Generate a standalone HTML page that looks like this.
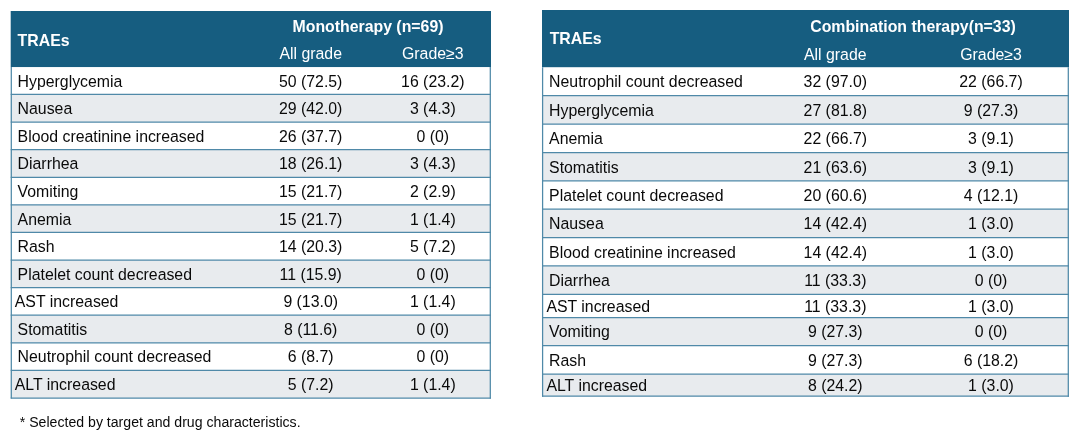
<!DOCTYPE html>
<html lang="en"><head><meta charset="utf-8"><title>TRAEs</title>
<style>
html,body{margin:0;padding:0;background:#fff;}
body{width:1080px;height:437px;position:relative;overflow:hidden;font-family:"Liberation Sans",Arial,Helvetica,sans-serif;font-size:15.85px;color:#0a0a0a;}
.bg{position:absolute;left:0;top:0;}
.t{position:absolute;white-space:nowrap;line-height:20px;height:20px;}
.c{transform:translateX(-50%);}
.h{color:#fff;}
.b{font-weight:bold;}
.fn{font-size:14.12px;}
</style></head><body>

<svg class="bg" width="1080" height="437" viewBox="0 0 1080 437">
<rect x="10.70" y="11.00" width="480.30" height="56.05" fill="#165d80"/>
<rect x="10.70" y="94.49" width="480.30" height="27.59" fill="#e8ebee"/>
<rect x="10.70" y="149.68" width="480.30" height="27.59" fill="#e8ebee"/>
<rect x="10.70" y="204.86" width="480.30" height="27.59" fill="#e8ebee"/>
<rect x="10.70" y="260.04" width="480.30" height="27.59" fill="#e8ebee"/>
<rect x="10.70" y="315.23" width="480.30" height="27.59" fill="#e8ebee"/>
<rect x="10.70" y="370.41" width="480.30" height="27.59" fill="#e8ebee"/>
<line x1="10.70" y1="94.49" x2="491.00" y2="94.49" stroke="#4f89a8" stroke-width="1.25"/>
<line x1="10.70" y1="122.08" x2="491.00" y2="122.08" stroke="#4f89a8" stroke-width="1.25"/>
<line x1="10.70" y1="149.68" x2="491.00" y2="149.68" stroke="#4f89a8" stroke-width="1.25"/>
<line x1="10.70" y1="177.27" x2="491.00" y2="177.27" stroke="#4f89a8" stroke-width="1.25"/>
<line x1="10.70" y1="204.86" x2="491.00" y2="204.86" stroke="#4f89a8" stroke-width="1.25"/>
<line x1="10.70" y1="232.45" x2="491.00" y2="232.45" stroke="#4f89a8" stroke-width="1.25"/>
<line x1="10.70" y1="260.04" x2="491.00" y2="260.04" stroke="#4f89a8" stroke-width="1.25"/>
<line x1="10.70" y1="287.64" x2="491.00" y2="287.64" stroke="#4f89a8" stroke-width="1.25"/>
<line x1="10.70" y1="315.23" x2="491.00" y2="315.23" stroke="#4f89a8" stroke-width="1.25"/>
<line x1="10.70" y1="342.82" x2="491.00" y2="342.82" stroke="#4f89a8" stroke-width="1.25"/>
<line x1="10.70" y1="370.41" x2="491.00" y2="370.41" stroke="#4f89a8" stroke-width="1.25"/>
<line x1="10.70" y1="398.00" x2="491.00" y2="398.00" stroke="#4f89a8" stroke-width="1.25"/>
<line x1="11.30" y1="67.05" x2="11.30" y2="398.60" stroke="#4f89a8" stroke-width="1.25"/>
<line x1="490.30" y1="67.05" x2="490.30" y2="398.60" stroke="#4f89a8" stroke-width="1.25"/>
<rect x="542.00" y="10.00" width="527.00" height="57.20" fill="#165d80"/>
<rect x="542.00" y="95.70" width="527.00" height="28.45" fill="#e8ebee"/>
<rect x="542.00" y="152.55" width="527.00" height="28.25" fill="#e8ebee"/>
<rect x="542.00" y="209.20" width="527.00" height="28.35" fill="#e8ebee"/>
<rect x="542.00" y="265.90" width="527.00" height="28.45" fill="#e8ebee"/>
<rect x="542.00" y="317.55" width="527.00" height="28.00" fill="#e8ebee"/>
<rect x="542.00" y="374.05" width="527.00" height="22.15" fill="#e8ebee"/>
<line x1="542.00" y1="95.70" x2="1069.00" y2="95.70" stroke="#4f89a8" stroke-width="1.25"/>
<line x1="542.00" y1="124.15" x2="1069.00" y2="124.15" stroke="#4f89a8" stroke-width="1.25"/>
<line x1="542.00" y1="152.55" x2="1069.00" y2="152.55" stroke="#4f89a8" stroke-width="1.25"/>
<line x1="542.00" y1="180.80" x2="1069.00" y2="180.80" stroke="#4f89a8" stroke-width="1.25"/>
<line x1="542.00" y1="209.20" x2="1069.00" y2="209.20" stroke="#4f89a8" stroke-width="1.25"/>
<line x1="542.00" y1="237.55" x2="1069.00" y2="237.55" stroke="#4f89a8" stroke-width="1.25"/>
<line x1="542.00" y1="265.90" x2="1069.00" y2="265.90" stroke="#4f89a8" stroke-width="1.25"/>
<line x1="542.00" y1="294.35" x2="1069.00" y2="294.35" stroke="#4f89a8" stroke-width="1.25"/>
<line x1="542.00" y1="317.55" x2="1069.00" y2="317.55" stroke="#4f89a8" stroke-width="1.25"/>
<line x1="542.00" y1="345.55" x2="1069.00" y2="345.55" stroke="#4f89a8" stroke-width="1.25"/>
<line x1="542.00" y1="374.05" x2="1069.00" y2="374.05" stroke="#4f89a8" stroke-width="1.25"/>
<line x1="542.00" y1="396.20" x2="1069.00" y2="396.20" stroke="#4f89a8" stroke-width="1.25"/>
<line x1="542.60" y1="67.20" x2="542.60" y2="396.80" stroke="#4f89a8" stroke-width="1.25"/>
<line x1="1068.30" y1="67.20" x2="1068.30" y2="396.80" stroke="#4f89a8" stroke-width="1.25"/>
</svg>
<div class="t h b" style="left:17.60px;top:30.66px">TRAEs</div>
<div class="t h b c" style="left:368.00px;top:16.76px">Monotherapy (n=69)</div>
<div class="t h c" style="left:310.70px;top:43.76px">All grade</div>
<div class="t h c" style="left:432.80px;top:43.76px">Grade≥3</div>
<div class="t" style="left:17.60px;top:71.55px">Hyperglycemia</div>
<div class="t  c" style="left:310.70px;top:71.55px">50 (72.5)</div>
<div class="t  c" style="left:432.80px;top:71.55px">16 (23.2)</div>
<div class="t" style="left:17.60px;top:99.14px">Nausea</div>
<div class="t  c" style="left:310.70px;top:99.14px">29 (42.0)</div>
<div class="t  c" style="left:432.80px;top:99.14px">3 (4.3)</div>
<div class="t" style="left:17.60px;top:126.74px">Blood creatinine increased</div>
<div class="t  c" style="left:310.70px;top:126.74px">26 (37.7)</div>
<div class="t  c" style="left:432.80px;top:126.74px">0 (0)</div>
<div class="t" style="left:17.60px;top:154.33px">Diarrhea</div>
<div class="t  c" style="left:310.70px;top:154.33px">18 (26.1)</div>
<div class="t  c" style="left:432.80px;top:154.33px">3 (4.3)</div>
<div class="t" style="left:17.60px;top:181.92px">Vomiting</div>
<div class="t  c" style="left:310.70px;top:181.92px">15 (21.7)</div>
<div class="t  c" style="left:432.80px;top:181.92px">2 (2.9)</div>
<div class="t" style="left:17.60px;top:209.51px">Anemia</div>
<div class="t  c" style="left:310.70px;top:209.51px">15 (21.7)</div>
<div class="t  c" style="left:432.80px;top:209.51px">1 (1.4)</div>
<div class="t" style="left:17.60px;top:237.10px">Rash</div>
<div class="t  c" style="left:310.70px;top:237.10px">14 (20.3)</div>
<div class="t  c" style="left:432.80px;top:237.10px">5 (7.2)</div>
<div class="t" style="left:17.60px;top:264.70px">Platelet count decreased</div>
<div class="t  c" style="left:310.70px;top:264.70px">11 (15.9)</div>
<div class="t  c" style="left:432.80px;top:264.70px">0 (0)</div>
<div class="t" style="left:14.80px;top:292.29px">AST increased</div>
<div class="t  c" style="left:310.70px;top:292.29px">9 (13.0)</div>
<div class="t  c" style="left:432.80px;top:292.29px">1 (1.4)</div>
<div class="t" style="left:17.60px;top:319.88px">Stomatitis</div>
<div class="t  c" style="left:310.70px;top:319.88px">8 (11.6)</div>
<div class="t  c" style="left:432.80px;top:319.88px">0 (0)</div>
<div class="t" style="left:17.60px;top:347.47px">Neutrophil count decreased</div>
<div class="t  c" style="left:310.70px;top:347.47px">6 (8.7)</div>
<div class="t  c" style="left:432.80px;top:347.47px">0 (0)</div>
<div class="t" style="left:14.80px;top:375.06px">ALT increased</div>
<div class="t  c" style="left:310.70px;top:375.06px">5 (7.2)</div>
<div class="t  c" style="left:432.80px;top:375.06px">1 (1.4)</div>
<div class="t h b" style="left:549.70px;top:29.26px">TRAEs</div>
<div class="t h b c" style="left:913.00px;top:16.76px">Combination therapy(n=33)</div>
<div class="t h c" style="left:835.30px;top:45.46px">All grade</div>
<div class="t h c" style="left:991.00px;top:45.46px">Grade≥3</div>
<div class="t" style="left:549.10px;top:72.31px">Neutrophil count decreased</div>
<div class="t  c" style="left:835.30px;top:72.31px">32 (97.0)</div>
<div class="t  c" style="left:991.00px;top:72.31px">22 (66.7)</div>
<div class="t" style="left:549.10px;top:100.78px">Hyperglycemia</div>
<div class="t  c" style="left:835.30px;top:100.78px">27 (81.8)</div>
<div class="t  c" style="left:991.00px;top:100.78px">9 (27.3)</div>
<div class="t" style="left:549.10px;top:129.21px">Anemia</div>
<div class="t  c" style="left:835.30px;top:129.21px">22 (66.7)</div>
<div class="t  c" style="left:991.00px;top:129.21px">3 (9.1)</div>
<div class="t" style="left:549.10px;top:157.53px">Stomatitis</div>
<div class="t  c" style="left:835.30px;top:157.53px">21 (63.6)</div>
<div class="t  c" style="left:991.00px;top:157.53px">3 (9.1)</div>
<div class="t" style="left:549.10px;top:185.86px">Platelet count decreased</div>
<div class="t  c" style="left:835.30px;top:185.86px">20 (60.6)</div>
<div class="t  c" style="left:991.00px;top:185.86px">4 (12.1)</div>
<div class="t" style="left:549.10px;top:214.23px">Nausea</div>
<div class="t  c" style="left:835.30px;top:214.23px">14 (42.4)</div>
<div class="t  c" style="left:991.00px;top:214.23px">1 (3.0)</div>
<div class="t" style="left:549.10px;top:242.58px">Blood creatinine increased</div>
<div class="t  c" style="left:835.30px;top:242.58px">14 (42.4)</div>
<div class="t  c" style="left:991.00px;top:242.58px">1 (3.0)</div>
<div class="t" style="left:549.10px;top:270.98px">Diarrhea</div>
<div class="t  c" style="left:835.30px;top:270.98px">11 (33.3)</div>
<div class="t  c" style="left:991.00px;top:270.98px">0 (0)</div>
<div class="t" style="left:546.40px;top:296.81px">AST increased</div>
<div class="t  c" style="left:835.30px;top:296.81px">11 (33.3)</div>
<div class="t  c" style="left:991.00px;top:296.81px">1 (3.0)</div>
<div class="t" style="left:549.10px;top:322.41px">Vomiting</div>
<div class="t  c" style="left:835.30px;top:322.41px">9 (27.3)</div>
<div class="t  c" style="left:991.00px;top:322.41px">0 (0)</div>
<div class="t" style="left:549.10px;top:350.66px">Rash</div>
<div class="t  c" style="left:835.30px;top:350.66px">9 (27.3)</div>
<div class="t  c" style="left:991.00px;top:350.66px">6 (18.2)</div>
<div class="t" style="left:546.40px;top:375.98px">ALT increased</div>
<div class="t  c" style="left:835.30px;top:375.98px">8 (24.2)</div>
<div class="t  c" style="left:991.00px;top:375.98px">1 (3.0)</div>
<div class="t fn" style="left:19.8px;top:412.45px">* Selected by target and drug characteristics.</div>
</body></html>
